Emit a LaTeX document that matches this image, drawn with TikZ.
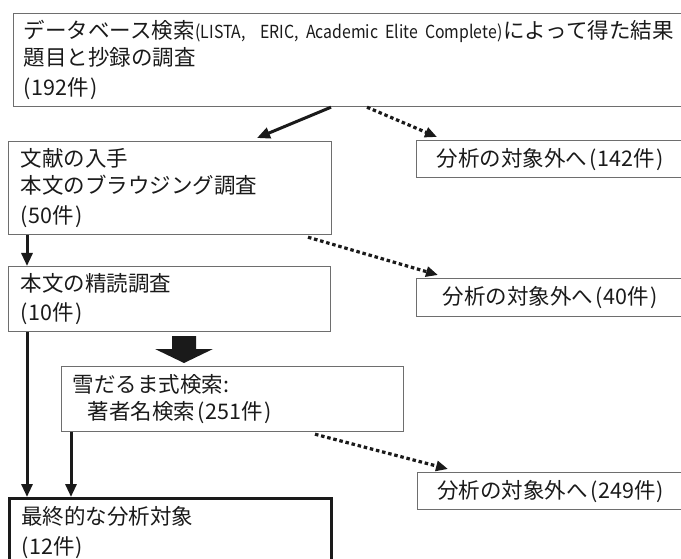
\documentclass[tikz,border=0pt]{standalone}
\usepackage{fontspec}
\setmainfont{Noto Sans CJK JP}
\newfontfamily\latn[FakeStretch=0.88]{Noto Sans CJK JP}
\usetikzlibrary{arrows.meta,calc}
\definecolor{boxgray}{HTML}{6E6E6E}
\definecolor{ink}{HTML}{1A1A1A}
\newcommand\LP{\kern2.5pt(\kern1pt}
\newcommand\RP{\kern1pt)\kern1pt}
\tikzset{
  box/.style={draw=boxgray, line width=1.2pt, anchor=north west, inner ysep=0pt,
    align=left, text=ink, font=\fontsize{21.5}{27}\selectfont},
  outbox/.style={draw=boxgray, line width=1.2pt, anchor=north west, inner sep=0pt,
    align=center, text=ink, font=\fontsize{21.5}{27}\selectfont},
  finalbox/.style={draw=ink, line width=2.6pt, anchor=north west, inner ysep=0pt,
    align=left, text=ink, font=\fontsize{21.5}{27}\selectfont},
  solidarrow/.style={draw=ink, line width=3pt, -{Triangle[length=13pt,width=11pt]}},
  dotarrow/.style={draw=ink, line width=3.2pt, dash pattern=on 3.5pt off 2.8pt,
    -{Triangle[length=12pt,width=10pt]}},
}
\begin{document}
\begin{tikzpicture}[x=1pt,y=-1pt]
\useasboundingbox (0,0) rectangle (681,559);
% boxes
\node[box, minimum width=677pt, minimum height=93pt, inner xsep=10pt, text width=657pt] (b1) at (13,13)
 {データベース検索{\latn\fontsize{18}{27}\selectfont\kern1pt(LISTA,\ \ ERIC, Academic Elite Complete)\kern1pt}によって得た結果\\題目と抄録の調査\\\LP192件\RP};
\node[outbox, minimum width=268pt, minimum height=37pt] (r1) at (416,140) {分析の対象外へ\LP142件\RP};
\node[box, minimum width=323pt, minimum height=93pt, inner xsep=12pt, text width=299pt] (b2) at (8,141)
 {文献の入手\\本文のブラウジング調査\\\LP50件\RP};
\node[box, minimum width=322pt, minimum height=65pt, inner xsep=12pt, text width=298pt] (b3) at (8,266)
 {本文の精読調査\\\LP10件\RP};
\node[outbox, minimum width=268pt, minimum height=38pt] (r2) at (416,278) {分析の対象外へ\LP40件\RP};
\node[box, minimum width=342pt, minimum height=65pt, inner xsep=11pt, text width=320pt] (sb) at (61,366)
 {雪だるま式検索:\\\hspace*{15pt}著者名検索\LP251件\RP};
\node[outbox, minimum width=267pt, minimum height=37pt] (r3) at (417,472) {分析の対象外へ\LP249件\RP};
\node[finalbox, minimum width=322pt, minimum height=68pt, inner xsep=12pt, text width=298pt] (fin) at (8,497)
 {最終的な分析対象\\\LP12件\RP};
% connectors
\draw[solidarrow] ([xshift=318pt]b1.south west) -- ([xshift=249pt,yshift=3pt]b2.north west);
\draw[dotarrow] ([xshift=354pt]b1.south west) -- ([xshift=21pt,yshift=3pt]r1.north west);
\draw[solidarrow] ([xshift=19pt]b2.south west) -- ([xshift=19pt]b3.north west);
\draw[dotarrow] ([xshift=300pt,yshift=-2pt]b2.south west) -- ([xshift=22pt,yshift=3pt]r2.north west);
\draw[solidarrow] ([xshift=19pt]b3.south west) -- ([xshift=19pt]fin.north west);
\draw[solidarrow] ([xshift=10pt]sb.south west) -- ([xshift=63pt]fin.north west);
\draw[dotarrow] ([xshift=254pt,yshift=-2pt]sb.south west) -- ([xshift=31pt,yshift=3pt]r3.north west);
% big block arrow
\coordinate (bigtip) at (184,363);
\fill[ink] (bigtip) -- ++(29,-14) -- ++(-17,0) -- ++(0,-13) -- ++(-24,0) -- ++(0,13) -- ++(-17,0) -- cycle;
\end{tikzpicture}
\end{document}
